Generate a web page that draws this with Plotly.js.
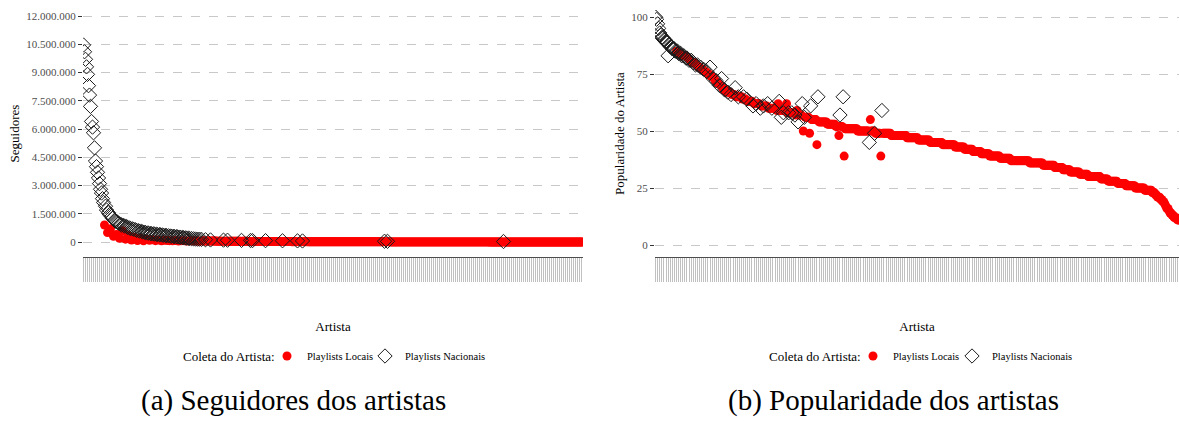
<!DOCTYPE html>
<html><head><meta charset="utf-8">
<script src="https://cdn.plot.ly/plotly-3.0.1.min.js"></script>
<style>html,body{margin:0;padding:0;background:#fff}#chart{width:1179px;height:421px}</style>
</head><body><div id="chart"></div>
<script>
// Followers (in thousands) of each artist, in the chart's x order (artist rank 1..N)
const seguidoresMil = [
10460,10100,9700,9300,8900,8300,7800,7200,6400,6100,5800,5000,4300,4000,3700,3400,3100,2800,2600,2300,
2100,900,1900,1700,500,1550,1450,700,1350,1250,300,1150,1100,400,1050,1000,200,950,900,600,
880,850,150,820,780,350,750,720,100,700,680,250,650,620,80,600,580,200,560,540,
60,520,500,150,480,470,90,455,440,120,430,420,70,410,400,110,390,380,60,370,
360,90,350,340,80,330,70,320,310,60,300,290,80,280,270,50,260,250,70,240,
230,60,220,210,50,200,190,70,180,60,170,50,160,60,150,40,150,50,140,60,
55,54,120,53,52,51,50,110,50,49,48,48,47,46,46,45,45,44,44,43,
100,43,42,42,95,41,41,40,40,39,39,38,38,37,37,37,36,36,85,35,
35,34,34,34,33,33,33,80,32,75,32,31,31,30,30,30,29,29,28,28,
28,27,70,27,26,26,26,25,25,25,25,24,24,24,23,23,23,22,22,65,
22,21,21,21,20,20,20,20,19,19,19,19,19,18,60,18,18,18,18,55,
18,17,17,17,17,16,16,16,16,16,15,15,15,15,15,14,14,14,14,14,
14,13,13,13,13,13,13,12,12,12,12,12,12,12,11,11,11,11,11,11,
11,11,10,10,10,10,10,10,10,10,10,9,9,9,9,9,9,9,9,9,
9,9,8,8,8,8,8,8,8,8,8,8,8,7,7,7,7,7,7,7,
7,40,7,7,35,7,7,6,6,6,6,6,6,6,6,6,6,6,6,6,
6,6,5,5,5,5,5,5,5,5,5,5,5,5,5,5,5,5,5,5,
5,5,5,4,4,4,4,4,4,4,4,4,4,4,4,4,4,4,4,4,
4,4,4,4,4,4,4,3,3,3,3,3,3,3,3,3,3,3,3,3,
3,3,3,3,3,3,3,3,3,3,3,3,3,3,3,3,3,3,3,3,
3,3,3,3,3,3,2,2,2,2,2,2,2,2,2,2,2,2,2,2,
25,2,2,2,2,2,2,2,2,2,2,2,2,2,2,2,2,2,2,2,
2,2,2,2,2,2,2,2,2,2,1,1,1,1,1,1,1,1,1,1,
1,1,1,1,1,1,1,1,1,1,1,1,1,1,1,1,1,1,1,1,
1,1,1,1,1,1,1,1,1,1,1,1,1,1,1,1,1,1,1,1
];
// Ranks (positions on the x axis) of artists collected from national playlists
const nacionaisSeguidores = [1,2,3,4,5,6,7,8,9,10,11,12,13,14,15,16,17,18,19,20,21,23,24,26,27,29,30,32,33,35,36,38,39,
41,42,44,45,47,48,50,51,53,54,56,57,59,60,62,63,65,66,68,69,71,72,74,75,77,78,80,81,83,84,86,88,89,91,92,94,95,97,98,
100,101,103,104,106,107,109,111,113,115,117,119,123,128,141,145,159,168,170,183,200,215,220,302,305,421];

// Popularity of each artist, in the chart's x order
const popularidade = [
100,99,97,95,93,92,91,91,90,90,89,89,83,88,87,87,86,86,86,85,
85,85,84,84,84,83,83,83,83,82,82,82,81,81,81,80,80,80,79,79,
79,78,78,78,77,77,77,76,76,76,75,75,78,74,74,73,73,72,72,71,
71,70,70,73,69,68,68,68,67,67,67,67,66,66,66,66,69,65,65,65,
65,65,65,64,65,64,64,64,63,63,63,63,63,61,62,62,62,62,62,62,
60,61,61,61,61,61,61,62,60,60,60,60,60,60,60,60,59,62,63,59,
56,59,58,59,59,62,58,58,58,58,58,58,58,57,57,59,54,57,57,57,
62,50,56,56,56,56,56,49,61,55,55,55,55,55,44,65,54,54,54,54,
54,54,54,54,53,53,53,53,53,53,53,53,52,52,52,48,57,52,52,65,
39,51,51,51,51,51,51,51,51,51,51,51,51,50,50,50,50,50,50,50,
50,50,50,50,45,55,50,50,50,49,49,49,49,49,49,39,59,49,49,49,
49,49,49,49,49,48,48,48,48,48,48,48,48,48,48,48,48,48,48,48,
47,47,47,47,47,47,47,47,47,47,47,46,46,46,46,46,46,46,46,46,
46,46,45,45,45,45,45,45,45,45,45,45,45,45,44,44,44,44,44,44,
44,44,44,44,44,44,43,43,43,43,43,43,43,43,43,42,42,42,42,42,
42,42,42,41,41,41,41,41,41,41,41,40,40,40,40,40,40,40,40,39,
39,39,39,39,39,39,39,39,39,38,38,38,38,38,38,38,38,38,38,37,
37,37,37,37,37,37,37,37,37,37,37,37,37,37,37,37,37,36,36,36,
36,36,36,36,36,36,36,36,36,36,35,35,35,35,35,35,35,35,35,35,
35,34,34,34,34,34,34,34,34,33,33,33,33,33,33,33,32,32,32,32,
32,32,32,32,32,31,31,31,31,31,31,31,31,30,30,30,30,30,30,30,
30,30,30,30,30,29,29,29,29,29,29,29,28,28,28,28,28,28,28,28,
28,27,27,27,27,27,27,27,27,26,26,26,26,26,26,26,26,26,25,25,
25,25,25,25,25,25,25,24,24,24,24,24,24,24,23,23,23,22,22,21,
21,21,20,20,19,19,18,17,16,16,15,14,14,13,13,12,12,12,11,11
];
const nacionaisPopularidade = [1,2,3,4,5,6,7,8,9,10,11,12,13,14,15,16,17,18,19,20,22,23,25,26,28,30,31,33,35,37,39,41,
44,47,50,53,56,59,62,64,67,70,73,77,80,85,88,94,97,101,104,108,112,119,121,123,128,131,134,137,141,143,149,156,
177,180,205,210,217];

const yTicksSeguidores = [0,1500000,3000000,4500000,6000000,7500000,9000000,10500000,12000000];
const yTicksPopularidade = [0,25,50,75,100];
const nomesColeta = ['Playlists Locais','Playlists Nacionais'];
const tituloLegenda = 'Coleta do Artista:';

function separar(valores, nacionais, escala) {
  const set = new Set(nacionais);
  const loc = {x: [], y: []}, nac = {x: [], y: []};
  valores.forEach((v, i) => {
    const r = i + 1;
    const alvo = set.has(r) ? nac : loc;
    alvo.x.push(r); alvo.y.push(v * escala);
  });
  return {loc, nac};
}

const seg = separar(seguidoresMil, nacionaisSeguidores, 1000);
const pop = separar(popularidade, nacionaisPopularidade, 1);
const N = popularidade.length;

const FONT = 'Liberation Serif, Times New Roman, serif';
const redMarker = {symbol: 'circle', size: 9, color: '#ff0000', line: {width: 0}};
const diaMarker = {symbol: 'diamond-open', size: 11, color: '#1a1a1a', line: {width: 1, color: '#1a1a1a'}};

const traces = [
  {type: 'scatter', mode: 'markers', name: nomesColeta[0], x: seg.loc.x, y: seg.loc.y, xaxis: 'x', yaxis: 'y', marker: redMarker, legend: 'legend', hoverinfo: 'skip'},
  {type: 'scatter', mode: 'markers', name: nomesColeta[1], x: seg.nac.x, y: seg.nac.y, xaxis: 'x', yaxis: 'y', marker: diaMarker, legend: 'legend3', hoverinfo: 'skip'},
  {type: 'scatter', mode: 'markers', name: nomesColeta[0], x: pop.loc.x, y: pop.loc.y, xaxis: 'x2', yaxis: 'y2', marker: redMarker, legend: 'legend2', hoverinfo: 'skip'},
  {type: 'scatter', mode: 'markers', name: nomesColeta[1], x: pop.nac.x, y: pop.nac.y, xaxis: 'x2', yaxis: 'y2', marker: diaMarker, legend: 'legend4', hoverinfo: 'skip'}
];

const W = 1179, H = 421;
const yDom = [1 - 257 / H, 1 - 10 / H];

function xAxis(domain) {
  return {
    domain: domain, range: [0.5, N + 0.5], showgrid: false, zeroline: false,
    showline: true, linecolor: '#4d4d4d', linewidth: 1.2,
    ticks: 'outside', tickmode: 'linear', tick0: 1, dtick: 2, ticklen: 24, tickwidth: 1,
    tickcolor: 'rgba(150,150,150,0.6)', showticklabels: false,
    title: {text: 'Artista', font: {family: FONT, size: 13, color: '#000'}, standoff: 40}
  };
}
function yAxis(domain, range, ticks, title, anchor) {
  return {
    domain: domain, range: range, anchor: anchor, tickmode: 'array', tickvals: ticks,
    tickformat: ',d', showgrid: true, gridcolor: '#c8c8c8', griddash: 'dash', gridwidth: 1,
    zeroline: false, showline: false, ticks: 'outside', ticklen: 4, tickcolor: '#333',
    tickfont: {family: FONT, size: 11, color: '#4d4d4d'},
    title: {text: title, font: {family: FONT, size: 13, color: '#000'}, standoff: 3}
  };
}

function legendAt(px) {
  return {
    orientation: 'h', xanchor: 'left', yanchor: 'middle', y: 1 - 356 / H, x: px / W,
    bgcolor: 'rgba(0,0,0,0)', font: {family: FONT, size: 10.5, color: '#000'},
    itemwidth: 30, tracegroupgap: 0
  };
}

const capFont = {family: FONT, size: 29, color: '#000'};
const layout = {
  width: W, height: H, margin: {l: 0, r: 0, t: 0, b: 0},
  paper_bgcolor: '#fff', plot_bgcolor: '#fff', separators: ',.',
  showlegend: true,
  xaxis: Object.assign(xAxis([83 / W, 583 / W]), {anchor: 'y'}),
  yaxis: yAxis(yDom, [-796460, 12318584], yTicksSeguidores, 'Seguidores', 'x'),
  xaxis2: Object.assign(xAxis([655 / W, 1]), {anchor: 'y2'}),
  yaxis2: yAxis(yDom, [-5.26, 103.07], yTicksPopularidade, 'Popularidade do Artista', 'x2'),
  legend: legendAt(267),
  legend3: legendAt(365),
  legend2: legendAt(853),
  legend4: legendAt(952),
  annotations: [
    {text: tituloLegenda, xref: 'paper', yref: 'paper', x: 277 / W, y: 1 - 356 / H,
     xanchor: 'right', yanchor: 'middle', showarrow: false, font: {family: FONT, size: 13, color: '#000'}},
    {text: tituloLegenda, xref: 'paper', yref: 'paper', x: 863 / W, y: 1 - 356 / H,
     xanchor: 'right', yanchor: 'middle', showarrow: false, font: {family: FONT, size: 13, color: '#000'}},
    {text: '(a) Seguidores dos artistas', xref: 'paper', yref: 'paper', x: 293 / W, y: 1 - 400 / H,
     xanchor: 'center', yanchor: 'middle', showarrow: false, font: capFont},
    {text: '(b) Popularidade dos artistas', xref: 'paper', yref: 'paper', x: 893 / W, y: 1 - 400 / H,
     xanchor: 'center', yanchor: 'middle', showarrow: false, font: capFont}
  ]
};

Plotly.newPlot('chart', traces, layout, {displayModeBar: false, staticPlot: true});
</script></body></html>
